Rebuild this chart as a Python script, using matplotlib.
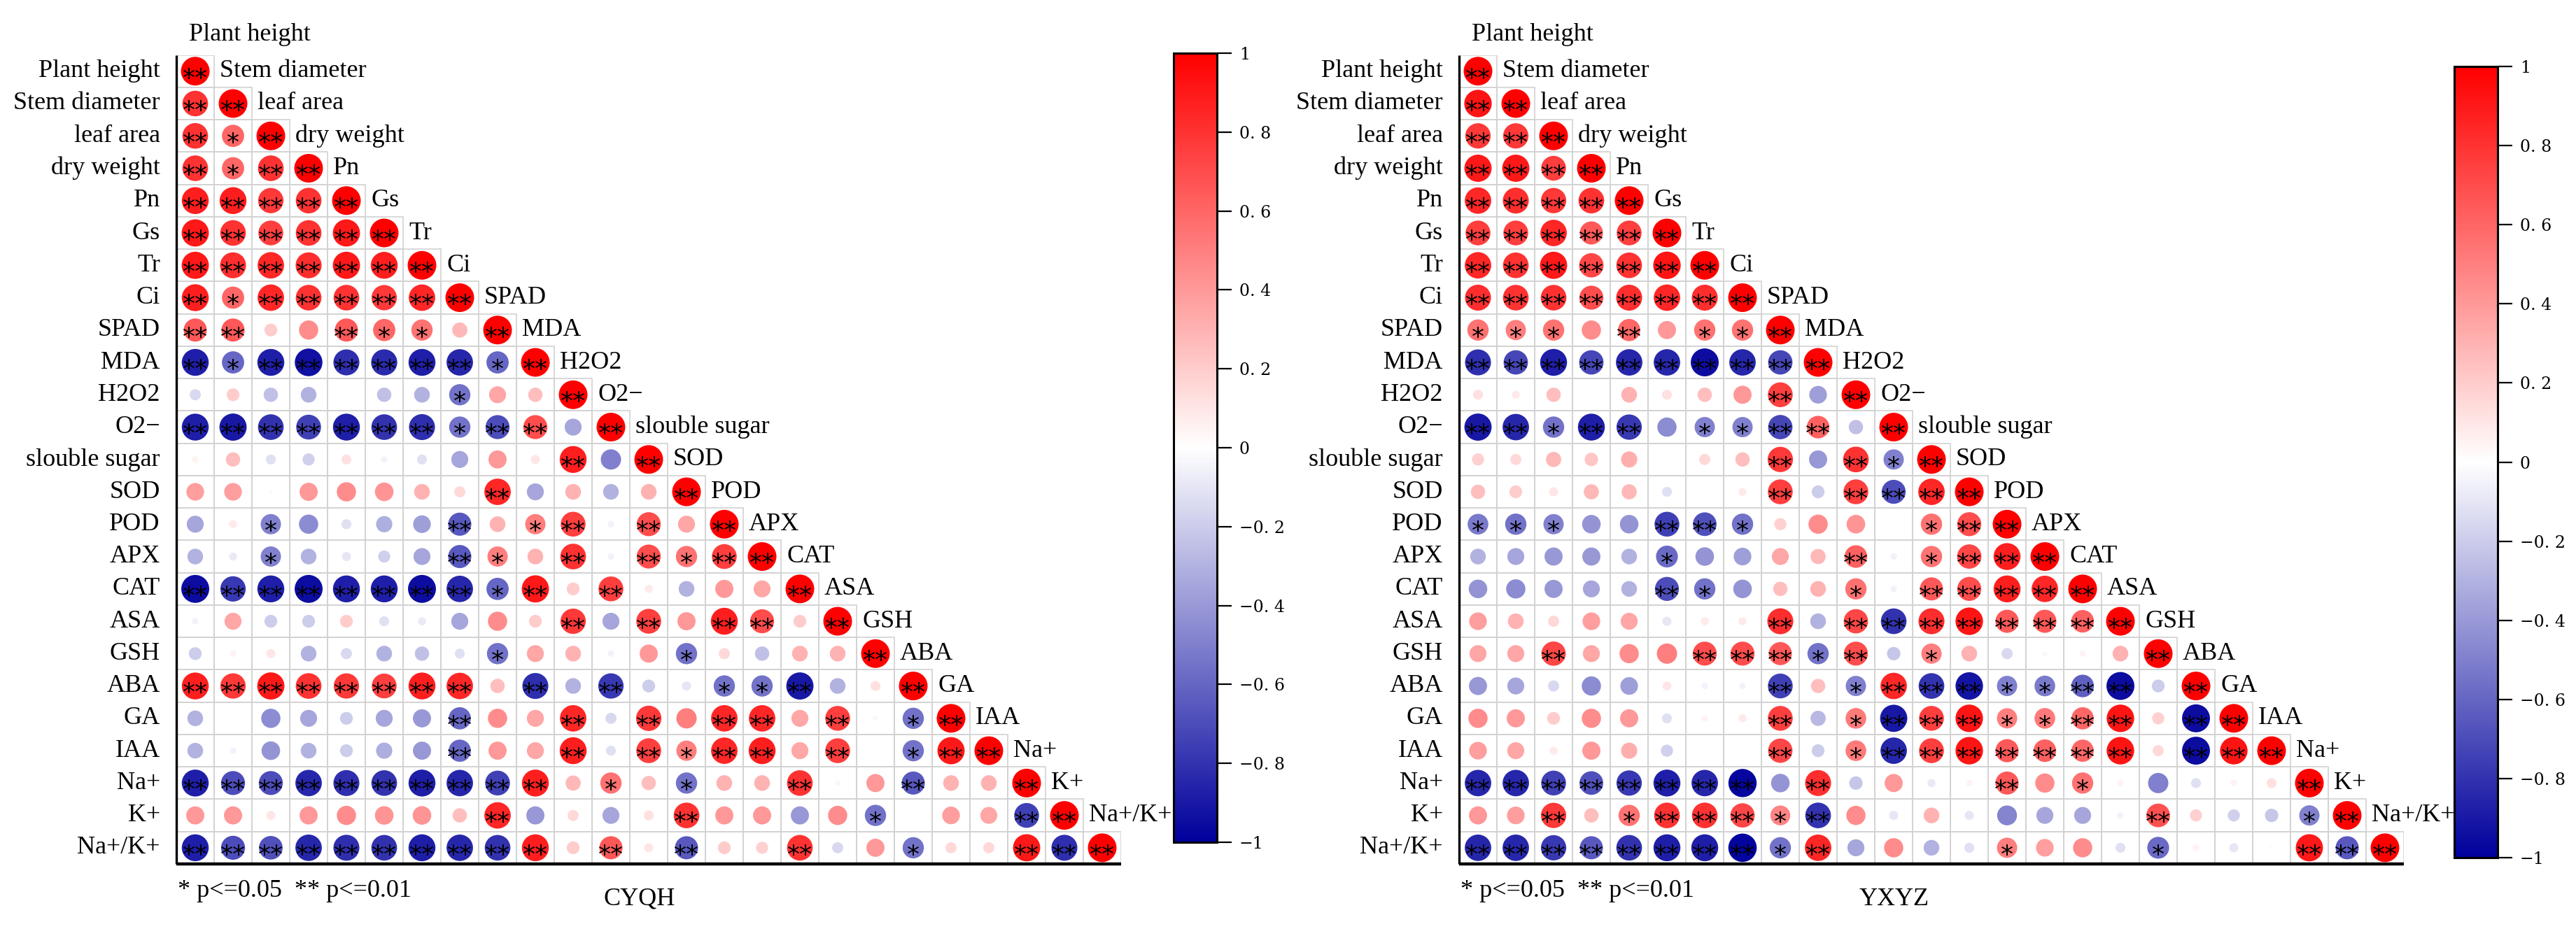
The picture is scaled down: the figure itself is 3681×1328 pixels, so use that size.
import numpy as np
import matplotlib
matplotlib.use('Agg')
import matplotlib.pyplot as plt
from matplotlib.colors import LinearSegmentedColormap, Normalize
from matplotlib.cm import ScalarMappable
from matplotlib.patches import Rectangle

variables = ['Plant height', 'Stem diameter', 'leaf area', 'dry weight', 'Pn', 'Gs', 'Tr', 'Ci',
             'SPAD', 'MDA', 'H2O2', 'O2\u2212', 'slouble sugar', 'SOD', 'POD', 'APX', 'CAT', 'ASA',
             'GSH', 'ABA', 'GA', 'IAA', 'Na+', 'K+', 'Na+/K+']

# lower-triangle correlations (row i, columns 1..i-1); diagonal = 1
cyqh_r = [
    [],
    [0.80],
    [0.80, 0.60],
    [0.80, 0.60, 0.80],
    [0.88, 0.88, 0.78, 0.80],
    [0.90, 0.80, 0.75, 0.80, 0.90],
    [0.90, 0.82, 0.85, 0.82, 0.90, 0.88],
    [0.88, 0.60, 0.85, 0.80, 0.80, 0.78, 0.85],
    [0.65, 0.65, 0.20, 0.45, 0.65, 0.60, 0.55, 0.28],
    [-0.88, -0.60, -0.88, -0.93, -0.82, -0.83, -0.88, -0.85, -0.60],
    [-0.15, 0.20, -0.25, -0.30, 0.00, -0.25, -0.30, -0.55, 0.35, 0.25],
    [-0.88, -0.90, -0.80, -0.75, -0.88, -0.80, -0.82, -0.55, -0.70, 0.70, -0.35],
    [0.05, 0.25, -0.12, -0.18, 0.12, -0.05, -0.12, -0.35, 0.40, 0.10, 0.88, -0.50],
    [0.38, 0.38, 0.02, 0.40, 0.45, 0.42, 0.30, 0.15, 0.85, -0.35, 0.30, -0.30, 0.30],
    [-0.35, 0.08, -0.50, -0.45, -0.12, -0.32, -0.38, -0.65, 0.30, 0.50, 0.75, -0.05, 0.70, 0.35],
    [-0.30, -0.08, -0.50, -0.30, -0.10, -0.18, -0.35, -0.65, 0.50, 0.30, 0.80, -0.05, 0.70, 0.55, 0.75],
    [-0.95, -0.78, -0.88, -0.95, -0.88, -0.88, -0.95, -0.85, -0.60, 0.90, 0.20, 0.75, 0.08, -0.30, 0.40, 0.35],
    [-0.05, 0.35, -0.20, -0.20, 0.20, -0.12, -0.08, -0.35, 0.45, 0.20, 0.78, -0.35, 0.75, 0.40, 0.88, 0.70, 0.20],
    [-0.20, 0.05, 0.10, -0.30, -0.15, -0.30, -0.25, -0.12, -0.55, 0.35, 0.30, -0.05, 0.40, -0.55, 0.15, -0.25, 0.30, 0.30],
    [0.88, 0.78, 0.90, 0.80, 0.78, 0.75, 0.88, 0.85, 0.25, -0.82, -0.30, -0.78, -0.20, -0.10, -0.55, -0.55, -0.90, -0.30, 0.12],
    [-0.30, 0.00, -0.45, -0.35, -0.20, -0.35, -0.40, -0.60, 0.45, 0.35, 0.85, -0.15, 0.78, 0.50, 0.85, 0.85, 0.35, 0.75, -0.03, -0.55],
    [-0.30, -0.05, -0.42, -0.30, -0.20, -0.32, -0.40, -0.60, 0.40, 0.35, 0.88, -0.12, 0.75, 0.50, 0.85, 0.88, 0.35, 0.75, 0.00, -0.55, 0.90],
    [-0.88, -0.70, -0.70, -0.85, -0.82, -0.80, -0.88, -0.85, -0.75, 0.88, 0.28, 0.55, 0.25, -0.55, 0.30, 0.30, 0.80, -0.03, 0.40, -0.65, 0.30, 0.30],
    [0.40, 0.40, 0.10, 0.40, 0.45, 0.42, 0.42, 0.25, 0.85, -0.40, 0.15, -0.35, 0.12, 0.80, 0.40, 0.40, -0.40, 0.45, -0.55, 0.00, 0.38, 0.35, -0.75],
    [-0.88, -0.70, -0.68, -0.85, -0.82, -0.80, -0.88, -0.85, -0.80, 0.88, 0.20, 0.65, 0.10, -0.65, 0.20, 0.18, 0.80, -0.15, 0.40, -0.55, 0.15, 0.15, 0.90, -0.82],
]
# significance: 0 none, 1 = *, 2 = **
cyqh_sig = [
    [],
    [2],
    [2, 1],
    [2, 1, 2],
    [2, 2, 2, 2],
    [2, 2, 2, 2, 2],
    [2, 2, 2, 2, 2, 2],
    [2, 1, 2, 2, 2, 2, 2],
    [2, 2, 0, 0, 2, 1, 1, 0],
    [2, 1, 2, 2, 2, 2, 2, 2, 1],
    [0, 0, 0, 0, 0, 0, 0, 1, 0, 0],
    [2, 2, 2, 2, 2, 2, 2, 1, 2, 2, 0],
    [0, 0, 0, 0, 0, 0, 0, 0, 0, 0, 2, 0],
    [0, 0, 0, 0, 0, 0, 0, 0, 2, 0, 0, 0, 0],
    [0, 0, 1, 0, 0, 0, 0, 2, 0, 1, 2, 0, 2, 0],
    [0, 0, 1, 0, 0, 0, 0, 2, 1, 0, 2, 0, 2, 1, 2],
    [2, 2, 2, 2, 2, 2, 2, 2, 1, 2, 0, 2, 0, 0, 0, 0],
    [0, 0, 0, 0, 0, 0, 0, 0, 0, 0, 2, 0, 2, 0, 2, 2, 0],
    [0, 0, 0, 0, 0, 0, 0, 0, 1, 0, 0, 0, 0, 1, 0, 0, 0, 0],
    [2, 2, 2, 2, 2, 2, 2, 2, 0, 2, 0, 2, 0, 0, 1, 1, 2, 0, 0],
    [0, 0, 0, 0, 0, 0, 0, 2, 0, 0, 2, 0, 2, 0, 2, 2, 0, 2, 0, 1],
    [0, 0, 0, 0, 0, 0, 0, 2, 0, 0, 2, 0, 2, 1, 2, 2, 0, 2, 0, 1, 2],
    [2, 2, 2, 2, 2, 2, 2, 2, 2, 2, 0, 1, 0, 1, 0, 0, 2, 0, 0, 2, 0, 0],
    [0, 0, 0, 0, 0, 0, 0, 0, 2, 0, 0, 0, 0, 2, 0, 0, 0, 0, 1, 0, 0, 0, 2],
    [2, 2, 2, 2, 2, 2, 2, 2, 2, 2, 0, 2, 0, 2, 0, 0, 2, 0, 0, 1, 0, 0, 2, 2],
]

yxyz_r = [
    [],
    [0.92],
    [0.78, 0.78],
    [0.90, 0.90, 0.75],
    [0.85, 0.82, 0.78, 0.80],
    [0.75, 0.75, 0.85, 0.65, 0.75],
    [0.85, 0.80, 0.90, 0.72, 0.80, 0.92],
    [0.82, 0.80, 0.80, 0.70, 0.82, 0.85, 0.82],
    [0.55, 0.50, 0.55, 0.45, 0.60, 0.40, 0.55, 0.55],
    [-0.82, -0.72, -0.88, -0.72, -0.85, -0.85, -0.95, -0.85, -0.72],
    [0.12, 0.08, 0.25, 0.00, 0.30, 0.12, 0.25, 0.40, 0.75, -0.38],
    [-0.90, -0.85, -0.55, -0.88, -0.78, -0.45, -0.50, -0.50, -0.72, 0.62, -0.25],
    [0.18, 0.15, 0.28, 0.22, 0.32, 0.00, 0.15, 0.25, 0.78, -0.40, 0.80, -0.50],
    [0.25, 0.20, 0.10, 0.28, 0.28, -0.12, 0.00, 0.08, 0.75, -0.20, 0.75, -0.70, 0.85],
    [-0.52, -0.55, -0.50, -0.42, -0.42, -0.75, -0.68, -0.55, 0.18, 0.45, 0.42, 0.00, 0.55, 0.70],
    [-0.30, -0.35, -0.40, -0.40, -0.30, -0.58, -0.42, -0.38, 0.35, 0.28, 0.62, -0.05, 0.55, 0.72, 0.88],
    [-0.42, -0.45, -0.40, -0.35, -0.30, -0.70, -0.55, -0.42, 0.25, 0.30, 0.55, -0.05, 0.65, 0.70, 0.88, 0.85],
    [0.38, 0.30, 0.15, 0.38, 0.35, -0.10, 0.08, 0.08, 0.82, -0.30, 0.72, -0.80, 0.82, 0.92, 0.65, 0.65, 0.62],
    [0.35, 0.35, 0.72, 0.35, 0.45, 0.50, 0.70, 0.70, 0.65, -0.55, 0.70, -0.22, 0.50, 0.30, -0.15, 0.03, 0.05, 0.30],
    [-0.40, -0.35, -0.15, -0.45, -0.38, 0.10, -0.05, -0.05, -0.75, 0.25, -0.50, 0.85, -0.80, -0.92, -0.50, -0.52, -0.62, -0.95, -0.20],
    [0.45, 0.40, 0.20, 0.45, 0.40, -0.12, 0.05, 0.08, 0.75, -0.28, 0.52, -0.90, 0.75, 0.92, 0.50, 0.52, 0.60, 0.92, 0.18, -0.95],
    [0.38, 0.35, 0.08, 0.40, 0.32, -0.18, 0.00, 0.00, 0.72, -0.20, 0.52, -0.85, 0.75, 0.92, 0.65, 0.62, 0.60, 0.92, 0.15, -0.95, 0.92],
    [-0.85, -0.85, -0.75, -0.68, -0.78, -0.88, -0.85, -0.97, -0.42, 0.82, -0.22, 0.40, -0.08, 0.05, 0.65, 0.45, 0.55, 0.05, -0.50, -0.12, 0.05, 0.12],
    [0.40, 0.38, 0.78, 0.25, 0.55, 0.80, 0.80, 0.72, 0.48, -0.80, 0.45, -0.10, 0.30, -0.10, -0.48, -0.35, -0.35, -0.05, 0.68, 0.18, -0.18, -0.22, -0.50],
    [-0.85, -0.85, -0.78, -0.65, -0.80, -0.88, -0.88, -0.98, -0.55, 0.85, -0.35, 0.45, -0.30, -0.12, 0.50, 0.38, 0.45, -0.12, -0.58, 0.05, -0.10, 0.02, 0.90, -0.65],
]
yxyz_sig = [
    [],
    [2],
    [2, 2],
    [2, 2, 2],
    [2, 2, 2, 2],
    [2, 2, 2, 2, 2],
    [2, 2, 2, 2, 2, 2],
    [2, 2, 2, 2, 2, 2, 2],
    [1, 1, 1, 0, 2, 0, 1, 1],
    [2, 2, 2, 2, 2, 2, 2, 2, 2],
    [0, 0, 0, 0, 0, 0, 0, 0, 2, 0],
    [2, 2, 1, 2, 2, 0, 1, 1, 2, 2, 0],
    [0, 0, 0, 0, 0, 0, 0, 0, 2, 0, 2, 1],
    [0, 0, 0, 0, 0, 0, 0, 0, 2, 0, 2, 2, 2],
    [1, 1, 1, 0, 0, 2, 2, 1, 0, 0, 0, 0, 1, 2],
    [0, 0, 0, 0, 0, 1, 0, 0, 0, 0, 2, 0, 1, 2, 2],
    [0, 0, 0, 0, 0, 2, 1, 0, 0, 0, 1, 0, 2, 2, 2, 2],
    [0, 0, 0, 0, 0, 0, 0, 0, 2, 0, 2, 2, 2, 2, 2, 2, 2],
    [0, 0, 2, 0, 0, 0, 2, 2, 2, 1, 2, 0, 1, 0, 0, 0, 0, 0],
    [0, 0, 0, 0, 0, 0, 0, 0, 2, 0, 1, 2, 2, 2, 1, 1, 2, 2, 0],
    [0, 0, 0, 0, 0, 0, 0, 0, 2, 0, 1, 2, 2, 2, 1, 1, 2, 2, 0, 2],
    [0, 0, 0, 0, 0, 0, 0, 0, 2, 0, 1, 2, 2, 2, 2, 2, 2, 2, 0, 2, 2],
    [2, 2, 2, 2, 2, 2, 2, 2, 0, 2, 0, 0, 0, 0, 2, 0, 1, 0, 0, 0, 0, 0],
    [0, 0, 2, 0, 1, 2, 2, 2, 1, 2, 0, 0, 0, 0, 0, 0, 0, 0, 2, 0, 0, 0, 1],
    [2, 2, 2, 2, 2, 2, 2, 2, 1, 2, 0, 0, 0, 0, 1, 0, 0, 0, 1, 0, 0, 0, 2, 2],
]

panel_titles = ['CYQH', 'YXYZ']
legend_text = '* p<=0.05  ** p<=0.01'
cbar_ticks = [1, 0.8, 0.6, 0.4, 0.2, 0, -0.2, -0.4, -0.6, -0.8, -1]
cbar_labels = ['1', '0. 8', '0. 6', '0. 4', '0. 2', '0',
               '\u22120. 2', '\u22120. 4', '\u22120. 6', '\u22120. 8', '\u22121']

W, H = 3681, 1328
cmap = LinearSegmentedColormap.from_list('corr', ['#00009C', '#FFFFFF', '#FF0000'])
norm = Normalize(vmin=-1, vmax=1)
SERIF = 'Liberation Serif'
LABEL_FS = 26
S_FULL = 870.0

fig = plt.figure(figsize=(W / 100, H / 100), dpi=100)


def fx(px):
    return px / W


def fy(py):
    return 1 - py / H


def draw_panel(left_px, rows, sigs, cbar_box, title, title_x, legend_x):
    n = len(variables)
    top_px, bot_px = 78.6, 1235.0
    ax = fig.add_axes([fx(left_px), fy(bot_px), 1350 / W, (bot_px - top_px) / H])
    ax.set_xlim(0.5, n + 0.5)
    ax.set_ylim(n + 0.5, 0.5)
    ax.axis('off')

    xs, ys, vs, ss = [], [], [], []
    for i in range(n):
        vals = list(rows[i]) + [1.0]
        sg = list(sigs[i]) + [2]
        for j, (v, s) in enumerate(zip(vals, sg)):
            xs.append(j + 1)
            ys.append(i + 1)
            vs.append(v)
            ss.append(s)
            ax.add_patch(Rectangle((j + 0.5, i + 0.5), 1, 1, fill=False,
                                   ec='#D2D2D2', lw=1.2, zorder=1))
    xs = np.array(xs); ys = np.array(ys); vs = np.array(vs)
    ax.scatter(xs, ys, s=S_FULL * np.abs(vs), c=vs, cmap=cmap, norm=norm,
               linewidths=0, zorder=3)
    for x, y, s in zip(xs, ys, ss):
        if s > 0:
            ax.text(x, y + 0.45, '*' * s, ha='center', va='baseline',
                    fontsize=26, family='DejaVu Sans', color='black', zorder=4)

    # borders
    ax.plot([0.5, 0.5], [0.5, n + 0.5], color='black', lw=2.4, clip_on=False,
            zorder=5, solid_capstyle='butt')
    ax.plot([0.5, n + 0.5], [n + 0.5, n + 0.5], color='black', lw=3.2,
            clip_on=False, zorder=5, solid_capstyle='butt')

    # row labels
    for i, name in enumerate(variables):
        ax.text(0.07, i + 1, name, ha='right', va='center', fontsize=LABEL_FS,
                family=SERIF, clip_on=False)
    # column labels along the diagonal
    ax.text(0.83, -0.12, variables[0], ha='left', va='center',
            fontsize=LABEL_FS, family=SERIF, clip_on=False)
    for j in range(1, n):
        ax.text(j + 0.5 + 0.15, j, variables[j], ha='left', va='center',
                fontsize=LABEL_FS, family=SERIF, clip_on=False)

    # colorbar
    cl, ct, cr, cb_ = cbar_box
    cax = fig.add_axes([fx(cl), fy(cb_), (cr - cl) / W, (cb_ - ct) / H])
    cbar = fig.colorbar(ScalarMappable(norm=norm, cmap=cmap), cax=cax,
                        ticks=cbar_ticks)
    cbar.ax.set_yticklabels(cbar_labels, family='DejaVu Serif', fontsize=17)
    cbar.ax.tick_params(length=15, width=1.6, direction='out', pad=8)
    cbar.outline.set_linewidth(2.2)

    fig.text(fx(legend_x), fy(1273), legend_text, ha='left', va='center',
             fontsize=LABEL_FS, family=SERIF)
    fig.text(fx(title_x), fy(1285), title, ha='center', va='center',
             fontsize=LABEL_FS, family=SERIF)


draw_panel(252, cyqh_r, cyqh_sig, (1677, 76, 1739, 1204), panel_titles[0], 914, 254)
draw_panel(2085, yxyz_r, yxyz_sig, (3507, 95, 3569, 1226), panel_titles[1], 2707, 2087)

fig.savefig('out.png', dpi=100)
